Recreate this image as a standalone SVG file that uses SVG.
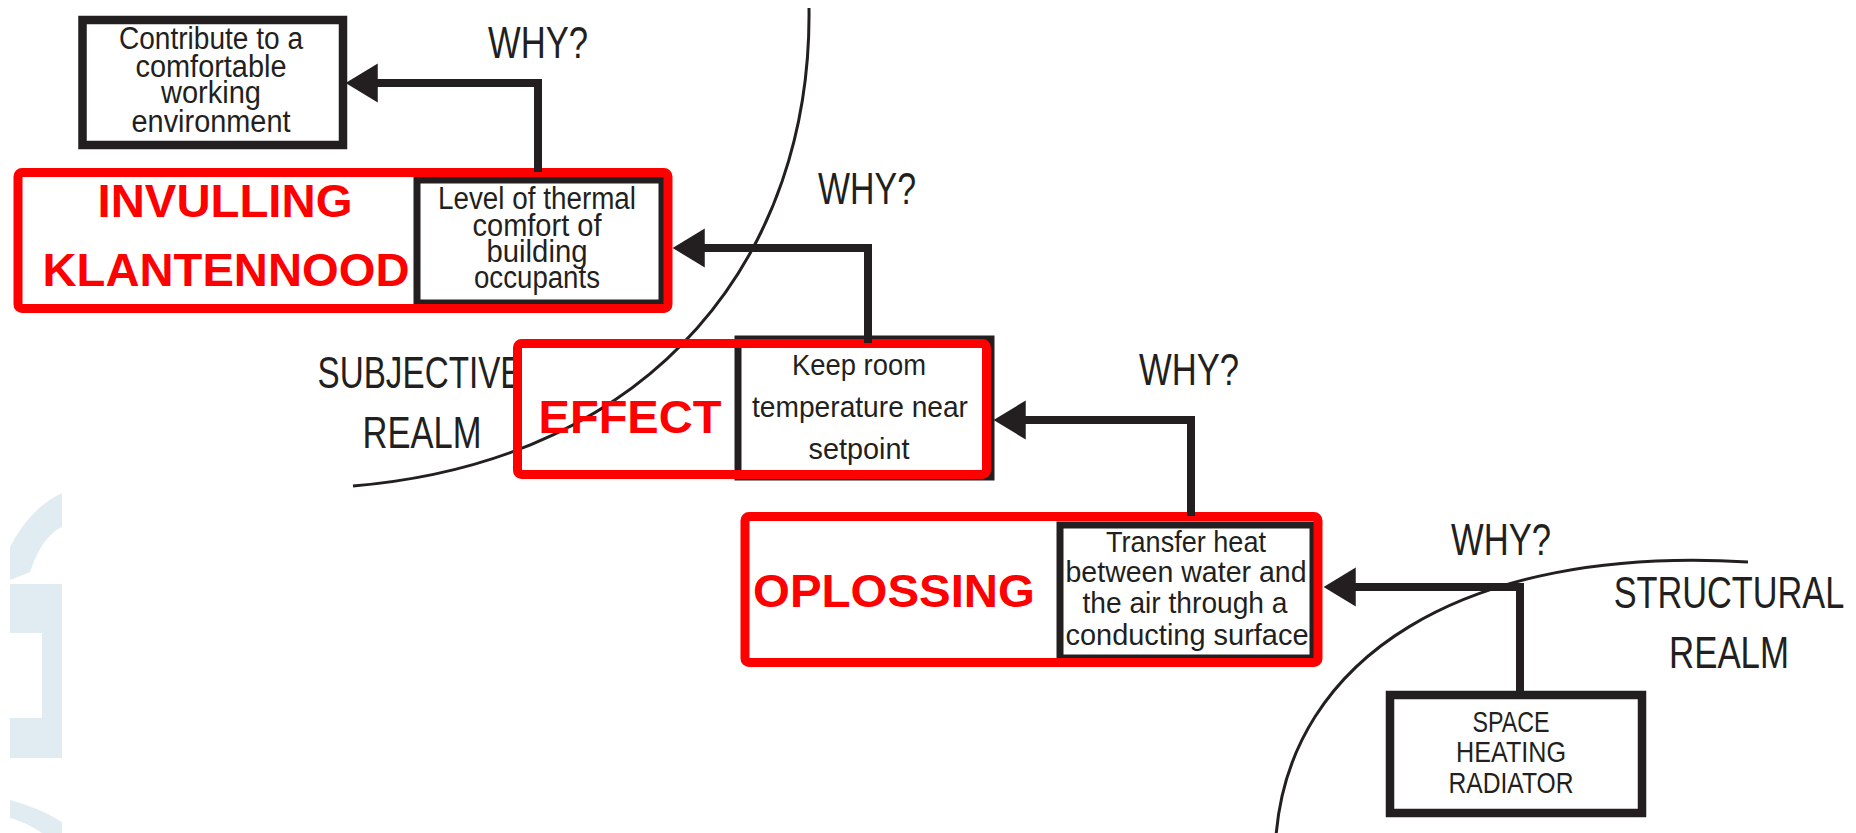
<svg xmlns="http://www.w3.org/2000/svg" width="1856" height="833" viewBox="0 0 1856 833">
<style>
.bg{fill:#ffffff}
.wm{fill:#e0ecf2}
.arc{fill:none;stroke:#231f20;stroke-width:3}
.box{fill:none;stroke:#231f20;stroke-width:8.5}
.inbox{fill:none;stroke:#231f20;stroke-width:7}
.red{fill:none;stroke:#ff0000;stroke-width:9}
.con{fill:none;stroke:#231f20;stroke-width:8;stroke-linejoin:miter}
.t{font-family:"Liberation Sans",Arial,sans-serif;fill:#231f20;text-anchor:middle}
.why,.realm{font-family:"Liberation Sans Narrow","Liberation Sans",Arial,sans-serif;font-size:44px}
.rl{font-family:"Liberation Sans",Arial,sans-serif;font-weight:bold;font-size:47px;fill:#ff0000;text-anchor:middle}
</style>
<defs>
<marker id="ah" markerUnits="userSpaceOnUse" markerWidth="32" markerHeight="40" viewBox="0 0 31 38" refX="23" refY="19" orient="auto">
<path d="M0,0 L31,19 L0,38 Z" fill="#231f20"/>
</marker>
</defs>
<rect class="bg" x="0" y="0" width="1856" height="833"/>
<g id="watermark">
<path class="wm" d="M10,547 Q30,508 62,493 L62,527 Q42,536 30,572 L10,580 Z"/>
<path class="wm" d="M10,584 H62 V758 H10 V718 H42 V633 H10 Z"/>
<path class="wm" d="M10,800 Q40,808 62,822 L62,833 L42,833 Q26,822 10,818 Z"/>
</g>
<g id="realms">
<path class="arc" d="M809,8 C812,250 660,460 353,486"/>
<path class="arc" d="M1276,836 C1290,660 1460,545 1748,562"/>
<text class="t realm" x="420" y="388" textLength="205" lengthAdjust="spacingAndGlyphs">SUBJECTIVE</text>
<text class="t realm" x="422" y="448" textLength="119" lengthAdjust="spacingAndGlyphs">REALM</text>
<text class="t realm" transform="translate(1729,608) scale(0.78,1)" x="0" y="0">STRUCTURAL</text>
<text class="t realm" x="1729" y="668" textLength="120" lengthAdjust="spacingAndGlyphs">REALM</text>
</g>
<g id="n-comfortable-env">
<rect class="box" x="82.5" y="20" width="260.5" height="125"/>
<text class="t" font-size="31" x="211" y="49" textLength="184" lengthAdjust="spacingAndGlyphs">Contribute to a</text>
<text class="t" font-size="31" x="211" y="77" textLength="151" lengthAdjust="spacingAndGlyphs">comfortable</text>
<text class="t" font-size="31" x="211" y="103" textLength="100" lengthAdjust="spacingAndGlyphs">working</text>
<text class="t" font-size="31" x="211" y="132" textLength="159" lengthAdjust="spacingAndGlyphs">environment</text>
</g>
<g id="n-thermal-comfort">
<rect class="inbox" x="417" y="180" width="245" height="123"/>
<text class="t" font-size="31" x="537" y="209" textLength="198" lengthAdjust="spacingAndGlyphs">Level of thermal</text>
<text class="t" font-size="31" x="537" y="236" textLength="129" lengthAdjust="spacingAndGlyphs">comfort of</text>
<text class="t" font-size="31" x="537" y="262" textLength="101" lengthAdjust="spacingAndGlyphs">building</text>
<text class="t" font-size="31" x="537" y="288" textLength="126" lengthAdjust="spacingAndGlyphs">occupants</text>
<rect class="red" x="18" y="172.5" width="650" height="136" rx="4"/>
<text class="rl" x="225" y="217" textLength="255" lengthAdjust="spacingAndGlyphs">INVULLING</text>
<text class="rl" x="226" y="286" textLength="367" lengthAdjust="spacingAndGlyphs">KLANTENNOOD</text>
</g>
<g id="n-room-temperature">
<rect class="inbox" x="738" y="339" width="253" height="138"/>
<text class="t" font-size="29" x="859" y="375" textLength="134" lengthAdjust="spacingAndGlyphs">Keep room</text>
<text class="t" font-size="29" x="860" y="417" textLength="216" lengthAdjust="spacingAndGlyphs">temperature near</text>
<text class="t" font-size="29" x="859" y="459" textLength="101" lengthAdjust="spacingAndGlyphs">setpoint</text>
<rect class="red" x="517.5" y="343.5" width="469" height="131" rx="4"/>
<text class="rl" x="630" y="433" textLength="183" lengthAdjust="spacingAndGlyphs">EFFECT</text>
</g>
<g id="n-transfer-heat">
<rect class="inbox" x="1060" y="525" width="253" height="133"/>
<text class="t" font-size="30" x="1186" y="552" textLength="160" lengthAdjust="spacingAndGlyphs">Transfer heat</text>
<text class="t" font-size="30" x="1186" y="582" textLength="241" lengthAdjust="spacingAndGlyphs">between water and</text>
<text class="t" font-size="30" x="1185" y="613" textLength="205" lengthAdjust="spacingAndGlyphs">the air through a</text>
<text class="t" font-size="30" x="1187" y="645" textLength="243" lengthAdjust="spacingAndGlyphs">conducting surface</text>
<rect class="red" x="745" y="516.5" width="573" height="146" rx="4"/>
<text class="rl" x="894" y="607" textLength="282" lengthAdjust="spacingAndGlyphs">OPLOSSING</text>
</g>
<g id="n-radiator">
<rect class="box" x="1390" y="695" width="252" height="118"/>
<text class="t" font-size="30" x="1511" y="732" textLength="77" lengthAdjust="spacingAndGlyphs">SPACE</text>
<text class="t" font-size="30" x="1511" y="762" textLength="110" lengthAdjust="spacingAndGlyphs">HEATING</text>
<text class="t" font-size="30" x="1511" y="793" textLength="125" lengthAdjust="spacingAndGlyphs">RADIATOR</text>
</g>
<g id="connectors">
<path class="con" d="M538,172 V83 H354" marker-end="url(#ah)"/>
<path class="con" d="M868,343 V248 H681" marker-end="url(#ah)"/>
<path class="con" d="M1191,516 V420 H1002" marker-end="url(#ah)"/>
<path class="con" d="M1520,695 V587 H1332" marker-end="url(#ah)"/>
<text class="t why" x="538" y="58" textLength="100" lengthAdjust="spacingAndGlyphs">WHY?</text>
<text class="t why" x="867" y="204" textLength="98" lengthAdjust="spacingAndGlyphs">WHY?</text>
<text class="t why" x="1189" y="385" textLength="100" lengthAdjust="spacingAndGlyphs">WHY?</text>
<text class="t why" x="1501" y="555" textLength="100" lengthAdjust="spacingAndGlyphs">WHY?</text>
</g>
</svg>
